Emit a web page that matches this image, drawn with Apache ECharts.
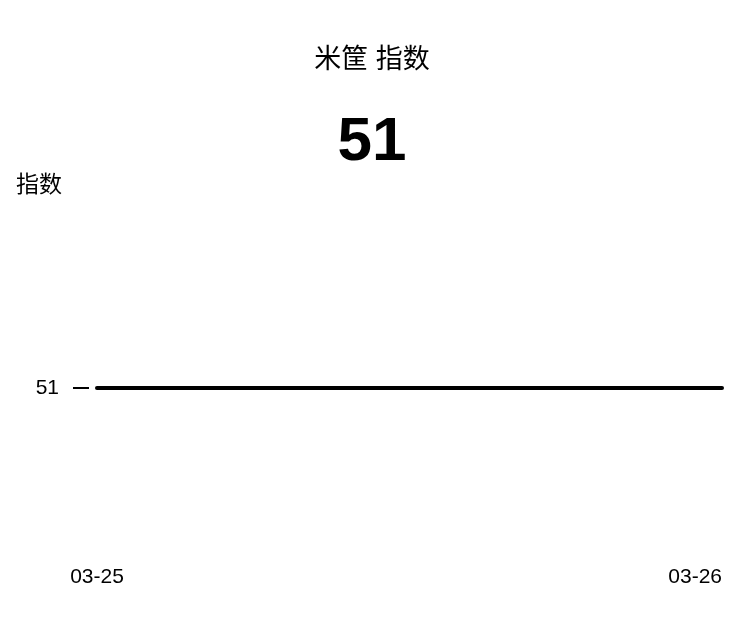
<!DOCTYPE html>
<html>
<head>
<meta charset="utf-8">
<script src="https://cdn.jsdelivr.net/npm/echarts@6/dist/echarts.min.js"></script>
<style>
html,body{margin:0;padding:0;background:#fff;}
#main{width:744px;height:640px;}
</style>
</head>
<body>
<div id="main"></div>
<script>
const titleText = '米筐 指数';
const bigValue = '51';
const yAxisName = '指数';
const categories = ['03-25', '03-26'];
const values = [51, 51];
const yTicks = [51];

const FONT = '"Liberation Sans", Arial, "Noto Sans CJK SC", sans-serif';
const chart = echarts.init(document.getElementById('main'), null, {renderer: 'canvas'});
chart.setOption({
  backgroundColor: '#ffffff',
  animation: false,
  title: [
    {text: titleText, left: 'center', top: 42, textStyle: {fontSize: 27, fontWeight: 'normal', color: '#000', fontFamily: FONT}},
    {text: bigValue, left: 'center', top: 107, textStyle: {fontSize: 62, fontWeight: 'bold', color: '#000', fontFamily: FONT}}
  ],
  grid: {left: 97, right: 22, top: 217, bottom: 81},
  xAxis: {
    type: 'category',
    data: categories,
    boundaryGap: false,
    axisLine: {show: false},
    axisTick: {show: false},
    splitLine: {show: false},
    axisLabel: {color: '#000', fontSize: 21, fontFamily: FONT, margin: 8, alignMinLabel: 'center', alignMaxLabel: 'right'}
  },
  yAxis: {
    type: 'value',
    min: 50, max: 52, interval: 1,
    offset: 8,
    name: yAxisName,
    nameLocation: 'end',
    nameGap: 20,
    nameTextStyle: {color: '#000', fontSize: 23, fontFamily: FONT, align: 'left', padding: [0, 0, 0, -73]},
    axisLine: {show: false},
    splitLine: {show: false},
    axisTick: {show: true, length: 16, customValues: yTicks, lineStyle: {color: '#000', width: 2}},
    axisLabel: {color: '#000', fontSize: 21, fontFamily: FONT, margin: 30, customValues: yTicks}
  },
  series: [{
    type: 'line',
    data: values,
    symbol: 'none',
    lineStyle: {color: '#000', width: 4, cap: 'round'}
  }]
});
</script>
</body>
</html>
